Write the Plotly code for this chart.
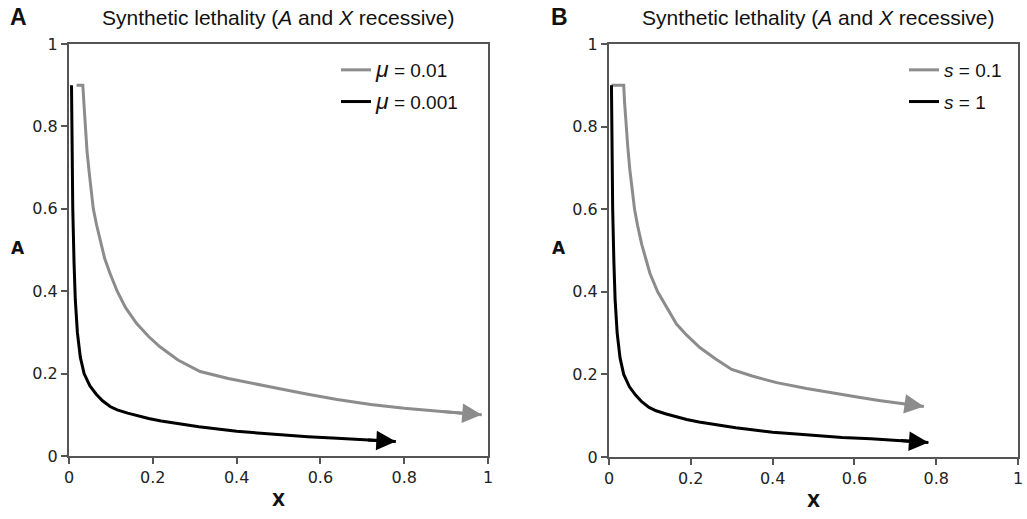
import plotly.graph_objects as go
from plotly.subplots import make_subplots

# panel A: mu = 0.01 (grey) and mu = 0.001 (black)
gray_a_x = [0.018, 0.033, 0.036, 0.039, 0.043, 0.048, 0.053, 0.058, 0.066, 0.074, 0.085,
            0.098, 0.115, 0.135, 0.161, 0.19, 0.217, 0.26, 0.313, 0.38, 0.45, 0.50,
            0.57, 0.64, 0.72, 0.80, 0.89, 0.985]
gray_a_y = [0.90, 0.90, 0.85, 0.80, 0.74, 0.69, 0.645, 0.60, 0.56, 0.524, 0.48,
            0.443, 0.40, 0.36, 0.322, 0.29, 0.265, 0.233, 0.205, 0.188, 0.173, 0.164,
            0.150, 0.137, 0.125, 0.116, 0.108, 0.100]
black_a_x = [0.006, 0.007, 0.009, 0.012, 0.015, 0.02, 0.027, 0.036, 0.05, 0.065, 0.08,
             0.098, 0.115, 0.14, 0.165, 0.19, 0.22, 0.25, 0.28, 0.31, 0.35, 0.40, 0.45,
             0.50, 0.57, 0.64, 0.71, 0.78]
black_a_y = [0.90, 0.75, 0.60, 0.47, 0.38, 0.30, 0.24, 0.20, 0.17, 0.15, 0.134,
             0.12, 0.112, 0.104, 0.097, 0.091, 0.085, 0.080, 0.075, 0.071, 0.066, 0.060, 0.056,
             0.052, 0.047, 0.043, 0.039, 0.035]

# panel B: s = 0.1 (grey) and s = 1 (black)
gray_b_x = [0.006, 0.036, 0.038, 0.042, 0.046, 0.051, 0.056, 0.0625, 0.07, 0.08, 0.09,
            0.10, 0.119, 0.14, 0.165, 0.19, 0.222, 0.26, 0.30, 0.35, 0.41, 0.483, 0.54,
            0.603, 0.66, 0.72, 0.77]
gray_b_y = [0.90, 0.90, 0.86, 0.80, 0.75, 0.695, 0.65, 0.60, 0.56, 0.515, 0.48,
            0.445, 0.40, 0.365, 0.322, 0.295, 0.265, 0.238, 0.212, 0.196, 0.18, 0.166, 0.156,
            0.146, 0.137, 0.129, 0.122]
black_b_x = [0.006, 0.007, 0.009, 0.012, 0.015, 0.02, 0.027, 0.036, 0.05, 0.065, 0.08,
             0.098, 0.115, 0.14, 0.165, 0.19, 0.22, 0.25, 0.28, 0.31, 0.35, 0.40, 0.45,
             0.50, 0.57, 0.64, 0.71, 0.781]
black_b_y = [0.90, 0.75, 0.60, 0.47, 0.38, 0.30, 0.24, 0.20, 0.17, 0.15, 0.134,
             0.12, 0.112, 0.104, 0.097, 0.091, 0.085, 0.080, 0.075, 0.071, 0.066, 0.060, 0.056,
             0.052, 0.047, 0.044, 0.040, 0.035]

ticks = [0, 0.2, 0.4, 0.6, 0.8, 1]
tick_labels = ['0', '0.2', '0.4', '0.6', '0.8', '1']

GRAY = '#8c8c8c'
BLACK = '#000000'
W, H = 1027, 519
B_RIGHT = 1018   # right edge of panel B, window pixels

fig = make_subplots(rows=1, cols=2)


def add_curve(x, y, color, name, col, legend):
    fig.add_trace(
        go.Scatter(
            x=x, y=y, mode='lines', name=name, legend=legend,
            legendgroup=name,
            line=dict(color=color, width=3, backoff=8),
        ),
        row=1, col=col
    )
    # arrow head at the end of the curve
    xr = 'x' if col == 1 else 'x2'
    yr = 'y' if col == 1 else 'y2'
    fig.add_annotation(
        x=x[-1], y=y[-1], ax=x[-2], ay=y[-2], xref=xr, yref=yr, axref=xr, ayref=yr,
        text='', showarrow=True, arrowhead=2, arrowsize=1.3, arrowwidth=3, arrowcolor=color,
    )


MU = "<span style='font-size:23px'><i>μ</i></span>"
add_curve(gray_a_x, gray_a_y, GRAY, MU + ' = 0.01', 1, 'legend')
add_curve(black_a_x, black_a_y, BLACK, MU + ' = 0.001', 1, 'legend')
add_curve(gray_b_x, gray_b_y, GRAY, '<i>s</i> = 0.1', 2, 'legend2')
add_curve(black_b_x, black_b_y, BLACK, '<i>s</i> = 1', 2, 'legend2')

TICKFONT = dict(family='DejaVu Sans', size=16, color='#222222')
axis_style = dict(
    range=[0, 1], tickvals=ticks, ticktext=tick_labels,
    showgrid=False, zeroline=False, automargin=False,
    showline=True, linecolor='#555555', linewidth=2, mirror=True,
    ticks='outside', ticklen=6, tickwidth=1.5, tickcolor='#555555',
    tickfont=TICKFONT, ticklabeloverflow='allow',
)

fig.update_xaxes(axis_style)
fig.update_yaxes(axis_style)
fig.update_xaxes(title=dict(text='<b>X</b>', font=dict(family='DejaVu Sans', size=17, color='#111'),
                            standoff=8))
# the last label of the right panel sits at the page edge and is dropped by plotly,
# so it is written as a paper-anchored text under the last tick
fig.update_xaxes(ticktext=tick_labels[:-1] + [''], row=1, col=2)
fig.add_annotation(x=B_RIGHT / W, xref='paper', y=1 - 478 / H, yref='paper',
                   text=tick_labels[-1], showarrow=False, xanchor='center', yanchor='middle',
                   font=TICKFONT)

fig.update_layout(
    xaxis=dict(domain=[69 / W, 488 / W]),
    xaxis2=dict(domain=[609 / W, B_RIGHT / W]),
    yaxis=dict(domain=[(H - 456) / H, (H - 44) / H]),
    yaxis2=dict(domain=[(H - 457) / H, (H - 44) / H]),
    width=W, height=H,
    margin=dict(l=0, r=0, t=0, b=0),
    paper_bgcolor='white', plot_bgcolor='white',
    font=dict(family='Liberation Sans, Arial', color='#111111'),
    legend=dict(x=336 / W, y=1 - 51 / H, xanchor='left', yanchor='top',
                font=dict(size=19, family='Liberation Sans'), tracegroupgap=4,
                bgcolor='rgba(0,0,0,0)'),
    legend2=dict(x=904 / W, y=1 - 51 / H, xanchor='left', yanchor='top',
                 font=dict(size=19, family='Liberation Sans'), tracegroupgap=4,
                 bgcolor='rgba(0,0,0,0)'),
)

title = 'Synthetic lethality (<i>A</i> and <i>X</i> recessive)'
annotations = [
    dict(text=title, x=278.5 / W, y=1 - 18 / H, font=dict(size=21)),
    dict(text=title, x=818 / W, y=1 - 18 / H, font=dict(size=21)),
    dict(text='<b>A</b>', x=18 / W, y=1 - 17 / H, font=dict(size=23)),
    dict(text='<b>B</b>', x=559 / W, y=1 - 17 / H, font=dict(size=23)),
    dict(text='<b>A</b>', x=18 / W, y=1 - 248 / H, font=dict(family='DejaVu Sans', size=17)),
    dict(text='<b>A</b>', x=559 / W, y=1 - 248 / H, font=dict(family='DejaVu Sans', size=17)),
]
for a in annotations:
    fig.add_annotation(xref='paper', yref='paper', showarrow=False,
                       xanchor='center', yanchor='middle', **a)

# the page's default body margin would shift the figure by 8px
fig.write_html("out.html", config={'displayModeBar': False},
               post_script="document.body.style.margin='0';")
